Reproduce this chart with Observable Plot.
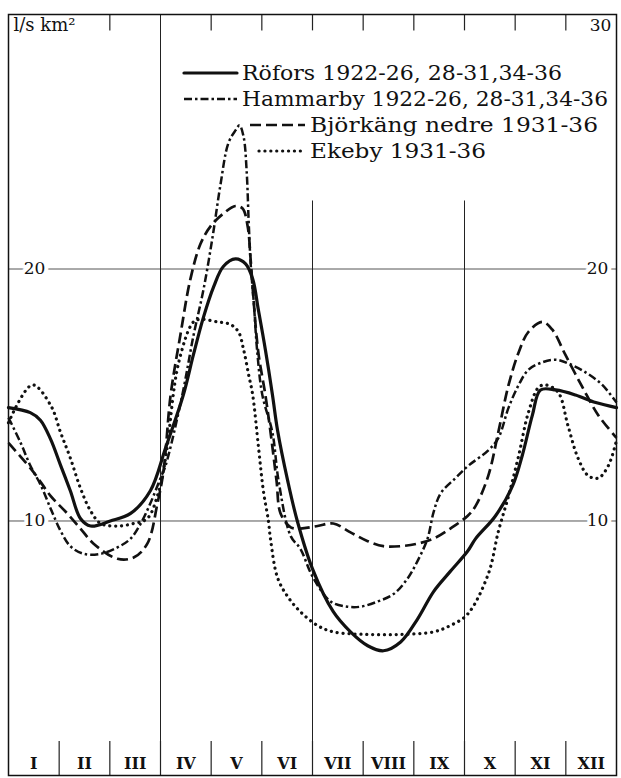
<!DOCTYPE html>
<html><head><meta charset="utf-8">
<script src="https://cdn.jsdelivr.net/npm/d3@7"></script>
<script src="https://cdn.jsdelivr.net/npm/@observablehq/plot@0.6"></script>
<style>html,body{margin:0;padding:0;background:#fff}#chart svg{display:block}</style>
</head><body><div id="chart"></div>
<script>
// ---- labels ----
const months = ["I","II","III","IV","V","VI","VII","VIII","IX","X","XI","XII"];
const yTicks = [10, 20];
const topValue = 30;
const unitLabel = "l/s km²";
const seriesNames = [
  "Röfors 1922-26, 28-31,34-36",
  "Hammarby 1922-26, 28-31,34-36",
  "Björkäng nedre 1931-36",
  "Ekeby 1931-36"
];

// ---- series (month position 0..12, value l/s km²) ----
const roforsPos = [0,0.43,0.63,0.83,1.03,1.22,1.42,1.62,2.01,2.41,2.80,3.10,3.45,3.65,3.85,4.05,4.24,4.48,4.68,4.82,4.93,5.07,5.21,5.31,5.51,5.70,6.00,6.41,6.75,7.09,7.40,7.74,8.07,8.39,8.72,9.06,9.22,9.61,9.95,10.14,10.34,10.50,10.80,11.19,11.59,12];
const roforsVal = [14.5,14.3,14.0,13.25,12.2,11.2,10.1,9.8,10.0,10.3,11.2,12.9,15.0,16.6,18.1,19.3,20.1,20.4,20.2,19.6,18.4,16.8,15.0,13.6,11.6,10.0,8.1,6.4,5.6,5.05,4.85,5.2,6.1,7.2,8.0,8.8,9.3,10.2,11.4,12.6,14.2,15.2,15.2,15.0,14.7,14.5];

const hammarbyPos = [0,0.24,0.43,0.63,0.83,1.03,1.22,1.48,1.82,2.15,2.41,2.61,2.80,3.00,3.10,3.43,3.65,3.85,4.03,4.18,4.34,4.48,4.56,4.64,4.70,4.74,4.78,4.84,4.91,5.01,5.21,5.33,5.57,5.76,6.00,6.36,6.69,6.95,7.28,7.60,7.87,8.07,8.27,8.39,8.53,8.82,9.08,9.47,9.67,9.87,10.07,10.26,10.54,10.80,11.05,11.39,11.72,12];
const hammarbyVal = [14.1,13.1,12.2,11.45,10.5,9.6,9.0,8.7,8.7,8.95,9.3,9.9,10.7,11.7,12.2,15.0,17.35,19.2,21.3,23.3,25.0,25.5,25.7,25.25,23.9,21.9,20.2,18.7,16.7,15.0,13.5,11.6,9.4,8.9,7.8,6.8,6.6,6.6,6.8,7.1,7.7,8.4,9.3,10.35,11.1,11.7,12.2,12.8,13.3,14.5,15.4,16.0,16.3,16.4,16.25,15.9,15.4,14.7];

const bjorkangPos = [0,0.49,0.83,1.16,1.42,1.68,2.15,2.47,2.74,2.94,3.06,3.20,3.39,3.59,3.79,3.99,4.24,4.48,4.62,4.72,4.78,4.84,4.93,5.07,5.17,5.29,5.37,5.57,5.76,6.10,6.41,6.75,7.09,7.40,7.74,8.07,8.39,8.72,9.06,9.22,9.47,9.67,9.87,10.07,10.26,10.54,10.73,10.99,11.33,11.64,12];
const bjorkangVal = [13.1,11.95,11.0,10.3,9.7,9.1,8.5,8.55,9.1,10.7,12.0,15.0,17.35,19.6,21.0,21.7,22.2,22.5,22.4,21.7,20.35,18.7,16.7,15.0,13.55,11.6,10.3,9.75,9.7,9.8,9.9,9.55,9.2,9.0,9.0,9.1,9.3,9.7,10.2,10.6,11.8,13.55,15.4,16.7,17.5,17.9,17.6,16.6,15.3,14.2,13.3];

const ekebyPos = [0,0.47,0.83,1.03,1.22,1.42,1.62,1.82,2.15,2.47,2.74,2.94,3.10,3.36,3.65,3.79,4.13,4.38,4.54,4.64,4.74,4.82,4.93,5.03,5.13,5.17,5.31,5.51,5.76,6.10,6.41,7.09,7.74,8.39,8.72,9.06,9.47,9.67,9.87,10.07,10.26,10.46,10.60,10.85,11.04,11.24,11.44,11.64,11.84,12];
const ekebyVal = [13.9,15.4,14.6,13.5,12.5,11.3,10.4,9.9,9.8,9.9,10.1,11.0,12.5,16.3,17.9,18.0,17.9,17.8,17.5,16.8,15.8,15.0,13.0,11.2,10.0,9.3,7.75,7.0,6.4,5.85,5.6,5.5,5.5,5.6,5.85,6.3,7.9,9.6,11.0,12.6,14.3,15.3,15.4,15.1,13.8,12.5,11.8,11.7,12.2,13.2];

// ---- build rows ----
const toRows = (name, pos, val) => pos.map((m, i) => ({series: name, m, v: val[i]}));
const rows = [
  toRows(seriesNames[0], roforsPos, roforsVal),
  toRows(seriesNames[1], hammarbyPos, hammarbyVal),
  toRows(seriesNames[2], bjorkangPos, bjorkangVal),
  toRows(seriesNames[3], ekebyPos, ekebyVal)
];

const styles = [
  {stroke: "#111", strokeWidth: 3.2, strokeDasharray: null, strokeLinecap: "round"},
  {stroke: "#111", strokeWidth: 2.5, strokeDasharray: "8,3,2.5,3", strokeLinecap: "butt"},
  {stroke: "#111", strokeWidth: 2.7, strokeDasharray: "11,5", strokeLinecap: "butt"},
  {stroke: "#111", strokeWidth: 3.2, strokeDasharray: "0.1,5.8", strokeLinecap: "round"}
];

const font = "'DejaVu Serif', serif";
const boundaries = d3.range(1, 12);
const topTicks = [2,4,5,6,7,8,9,10,11];

const lineMarks = rows.map((r, i) => Plot.line(r, {
  x: "m", y: "v", curve: "catmull-rom",
  stroke: styles[i].stroke, strokeWidth: styles[i].strokeWidth,
  strokeDasharray: styles[i].strokeDasharray, strokeLinecap: styles[i].strokeLinecap,
  strokeLinejoin: "round"
}));

const chart = Plot.plot({
  width: 621, height: 778,
  marginLeft: 8, marginRight: 5, marginTop: 14, marginBottom: 3,
  x: {domain: [0, 12], axis: null},
  y: {domain: [-0.1, 30.1], axis: null},
  style: {background: "white", fontFamily: font, color: "#111"},
  marks: [
    Plot.ruleY(yTicks, {stroke: "#555", strokeWidth: 1}),
    Plot.ruleX([3], {stroke: "#222", strokeWidth: 1}),
    Plot.ruleX([6, 9], {y1: -0.1, y2: 22.7, stroke: "#222", strokeWidth: 1}),
    Plot.ruleX(topTicks, {y1: 29.45, y2: 30.1, stroke: "#222", strokeWidth: 1.2}),
    Plot.ruleX(boundaries, {y1: -0.1, y2: 1.25, stroke: "#222", strokeWidth: 1.2}),
    ...lineMarks,
    Plot.text(yTicks, {x: 0, y: d => d, dx: 26, text: d => String(d), fontSize: 17, fill: "#111", stroke: "white", strokeWidth: 8}),
    Plot.text(yTicks, {x: 12, y: d => d, dx: -19, text: d => String(d), fontSize: 17, fill: "#111", stroke: "white", strokeWidth: 8}),
    Plot.text([topValue], {x: 12, y: d => d, dx: -16, dy: 9, text: d => String(d), fontSize: 17, fill: "#111"}),
    Plot.text([unitLabel], {x: 0, y: 30.1, dx: 5, dy: 11, text: d => d, textAnchor: "start", fontSize: 18, fill: "#111"}),
    Plot.text(months, {x: (d, i) => i + 0.5, y: -0.1, dy: -12, text: d => d, fontSize: 16, fontWeight: "bold", fill: "#111"}),
    Plot.frame({stroke: "#111", strokeWidth: 1.5})
  ]
});
document.getElementById("chart").appendChild(chart);

// ---- legend (pixel layout inside the plot area) ----
const svg = d3.select(chart);
const legendRows = [
  {y: 73, x1: 184, x2: 237, tx: 242, tw: 320},
  {y: 99, x1: 184, x2: 237, tx: 242, tw: 366},
  {y: 125, x1: 250, x2: 305, tx: 310, tw: 288},
  {y: 151, x1: 259, x2: 303, tx: 310, tw: 176}
];
const lg = svg.append("g").attr("font-family", font).attr("font-size", 20)
  .attr("fill", "#111").attr("text-anchor", "start");
legendRows.forEach((p, i) => {
  const s = styles[i];
  lg.append("line").attr("x1", p.x1).attr("x2", p.x2).attr("y1", p.y).attr("y2", p.y)
    .attr("stroke", s.stroke).attr("stroke-width", s.strokeWidth)
    .attr("stroke-dasharray", s.strokeDasharray).attr("stroke-linecap", s.strokeLinecap);
  lg.append("text").attr("x", p.tx).attr("y", p.y + 7).attr("text-anchor", "start")
    .attr("textLength", p.tw).attr("lengthAdjust", "spacingAndGlyphs")
    .text(seriesNames[i]);
});
</script>
</body></html>
